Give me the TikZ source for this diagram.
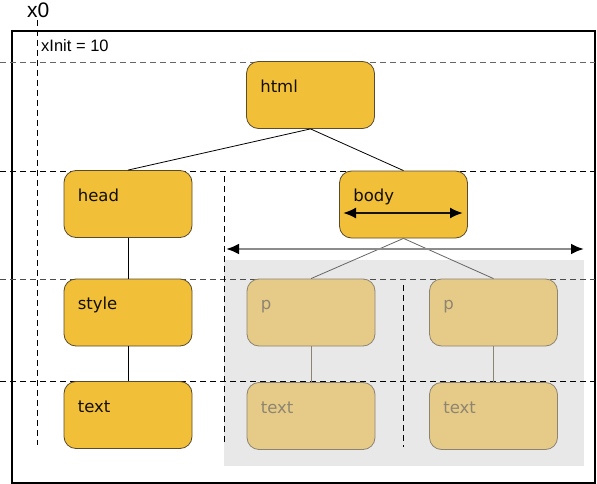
\documentclass[tikz,border=0pt]{standalone}
\usepackage{fontspec}
\setmainfont{Liberation Sans}
\newfontfamily\boxfont{DejaVu Sans}
\usetikzlibrary{arrows.meta}

\definecolor{tagfill}{HTML}{F2BF38}
\definecolor{tagline}{HTML}{5A4A2E}
\definecolor{fadefill}{HTML}{E6CB88}
\definecolor{fadeline}{HTML}{8C8472}
\definecolor{fadetext}{HTML}{8E8571}
\definecolor{areagray}{HTML}{E8E8E8}

\tikzset{
  tag/.style = {draw = tagline, fill = tagfill, line width = 0.8pt,
    rounded corners = 12pt, minimum width = 128pt, minimum height = 67pt,
    inner sep = 0pt},
  fadetag/.style = {tag, draw = fadeline, fill = fadefill},
  taglabel/.style = {anchor = base west, inner sep = 0pt, xshift = 14pt,
    yshift = -31pt, font = \boxfont\fontsize{16.5}{18}\selectfont, text = #1},
  taglabel/.default = {black!80!tagline},
  grid line/.style = {dash pattern = on 6pt off 4pt, line width = 0.8pt},
  link/.style = {line width = 0.8pt},
  width arrow/.style = {>={Latex[black, length = 13pt, width = 11pt]}, <->}
}

\begin{document}
\begin{tikzpicture}[x = 1pt, y = -1pt]
    \useasboundingbox (0, 0) rectangle (597, 484);

    % shaded area for the children of body
    \fill[areagray] (224, 260) rectangle (584, 466);
    \draw[line width = 1.4pt] (12, 31) rectangle (595, 483);

    % layout grid
    \draw[grid line, black!60] (0, 62) -- (595, 62);
    \draw[grid line] (0, 171) -- (595, 171);
    \draw[grid line, black!70] (0, 279) -- (595, 279);
    \draw[grid line] (0, 381) -- (595, 381);
    \draw[grid line] (37, 20) -- (37, 445);
    \draw[grid line] (224, 176) -- (224, 445);
    \draw[grid line] (403, 285) -- (403, 447);

    \node[anchor = base west, inner sep = 0pt, font = \fontsize{21}{24}\selectfont]
      (xzero) at (27, 18) {x0};
    \node[anchor = base west, inner sep = 0pt, font = \fontsize{16.5}{18}\selectfont]
      (xinit) at (41, 52) {xInit = 10};

    % tree
    \node[tag, label = {[taglabel]north west:html}] (html) at (310.5, 95) {};
    \node[tag, label = {[taglabel]north west:head}] (head) at (128, 204) {};
    \node[tag, label = {[taglabel]north west:body}] (body) at (403.5, 204.5) {};
    \node[tag, label = {[taglabel]north west:style}] (style) at (128, 312.5) {};
    \node[tag, label = {[taglabel]north west:text}] (text) at (128, 415) {};
    \node[fadetag, label = {[taglabel = fadetext]north west:p}] (pone) at (311, 312.5) {};
    \node[fadetag, label = {[taglabel = fadetext]north west:text}] (textone) at (311, 416) {};
    \node[fadetag, label = {[taglabel = fadetext]north west:p}] (ptwo) at (493.5, 312.5) {};
    \node[fadetag, label = {[taglabel = fadetext]north west:text}] (texttwo) at (493.5, 416) {};

    \draw[link] (html.south) -- (head.north);
    \draw[link] (html.south) -- (body.north);
    \draw[link] (head.south) -- (style.north);
    \draw[link] (style.south) -- (text.north);
    \draw[link, black!60] (body.south) -- (pone.north);
    \draw[link, black!60] (body.south) -- (ptwo.north);
    \draw[link, fadeline] (pone.south) -- (textone.north);
    \draw[link, fadeline] (ptwo.south) -- (texttwo.north);

    % widths
    \coordinate (bodyleft) at (343, 213);
    \coordinate (bodyright) at (463, 213);
    \draw[width arrow, line width = 2pt, black!75!tagline] (bodyleft) -- (bodyright);
    \coordinate (spanleft) at (226, 249);
    \coordinate (spanright) at (584, 249);
    \draw[width arrow, line width = 2.5pt, black!45] (spanleft) -- (spanright);
\end{tikzpicture}
\end{document}
